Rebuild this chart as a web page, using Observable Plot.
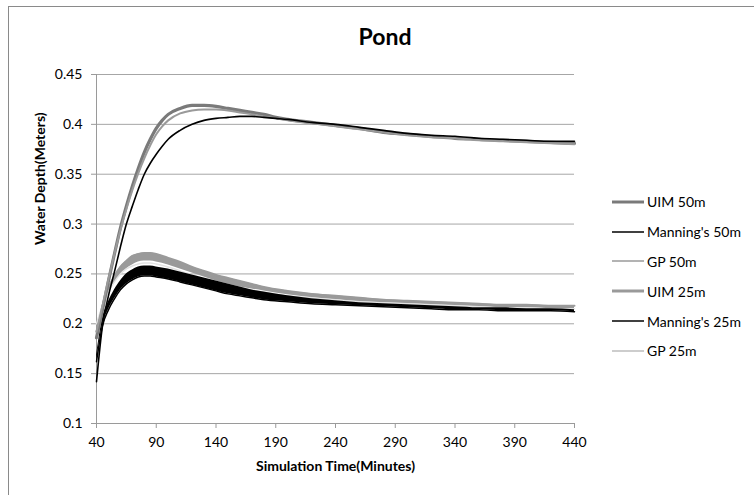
<!DOCTYPE html>
<html>
<head>
<meta charset="utf-8">
<script src="https://cdn.jsdelivr.net/npm/d3@7"></script>
<script src="https://cdn.jsdelivr.net/npm/@observablehq/plot@0.6"></script>
<style>
  html, body { margin: 0; padding: 0; background: #fff; overflow: hidden; }
  #wrap { position: relative; width: 754px; height: 495px; font-family: Lato, "Open Sans", sans-serif; }
  #frame { position: absolute; left: 8px; top: 6px; width: 780px; height: 520px; border: 1.5px solid #8a8a8a; box-sizing: border-box; pointer-events: none; }
  #title { position: absolute; left: 0; width: 770px; top: 22px; text-align: center; font-size: 23px; font-weight: bold; color: #000; }
  #legend { position: absolute; left: 612px; top: 187px; font-size: 14px; color: #000; }
  .row { height: 29.8px; display: flex; align-items: center; }
  .sw { width: 32px; margin-right: 3px; }
  svg { position: absolute; left: 0; top: 0; }
</style>
</head>
<body>
<div id="wrap">
  <div id="frame"></div>
  <div id="title">Pond</div>
  <div id="legend"></div>
</div>
<script>
const xTicks = [40, 90, 140, 190, 240, 290, 340, 390, 440];
const yTicks = [0.1, 0.15, 0.2, 0.25, 0.3, 0.35, 0.4, 0.45];

const t50 = [40,45,50,55,60,65,70,75,80,85,90,95,100,110,120,130,140,150,160,170,180,190,200,220,240,260,280,300,320,340,360,380,400,420,440];
const uim50 = [0.186,0.214,0.243,0.27,0.296,0.318,0.338,0.356,0.372,0.385,0.396,0.404,0.41,0.416,0.419,0.419,0.418,0.416,0.414,0.412,0.41,0.407,0.405,0.402,0.399,0.396,0.392,0.390,0.388,0.386,0.385,0.384,0.383,0.382,0.381];
const gp50 = [0.192,0.218,0.245,0.27,0.294,0.315,0.334,0.351,0.366,0.379,0.39,0.398,0.404,0.411,0.414,0.415,0.415,0.414,0.412,0.41,0.408,0.406,0.404,0.401,0.398,0.395,0.392,0.389,0.387,0.386,0.384,0.383,0.382,0.381,0.380];
const manning50 = [0.142,0.198,0.228,0.252,0.277,0.30,0.318,0.335,0.35,0.361,0.37,0.378,0.385,0.394,0.400,0.404,0.406,0.407,0.408,0.408,0.407,0.406,0.405,0.402,0.400,0.397,0.394,0.391,0.389,0.388,0.386,0.385,0.384,0.383,0.383];

const t25 = [40,45,50,55,60,65,70,75,80,85,90,100,110,120,130,140,150,160,170,180,200,220,240,260,280,300,320,340,360,380,400,420,440];
const uim25Hi = [0.192,0.218,0.236,0.248,0.257,0.263,0.268,0.270,0.271,0.271,0.270,0.266,0.262,0.257,0.253,0.249,0.246,0.243,0.240,0.237,0.233,0.230,0.228,0.226,0.224,0.223,0.222,0.221,0.220,0.219,0.219,0.218,0.218];
const uim25Lo = [0.186,0.212,0.230,0.241,0.249,0.255,0.259,0.262,0.263,0.263,0.262,0.259,0.255,0.251,0.247,0.243,0.240,0.237,0.235,0.233,0.229,0.226,0.224,0.222,0.221,0.220,0.219,0.218,0.217,0.216,0.216,0.215,0.215];
const gp25 = [0.20,0.218,0.232,0.242,0.25,0.255,0.258,0.26,0.261,0.261,0.26,0.257,0.253,0.249,0.245,0.242,0.239,0.236,0.234,0.232,0.228,0.226,0.224,0.222,0.221,0.22,0.219,0.218,0.217,0.216,0.216,0.215,0.215];
const manning25Hi = [0.168,0.205,0.222,0.234,0.243,0.25,0.254,0.257,0.258,0.258,0.257,0.255,0.252,0.249,0.246,0.243,0.240,0.237,0.234,0.232,0.228,0.225,0.223,0.221,0.220,0.219,0.218,0.217,0.216,0.216,0.215,0.215,0.214];
const manning25Lo = [0.162,0.198,0.214,0.225,0.234,0.24,0.244,0.247,0.248,0.248,0.247,0.245,0.242,0.239,0.236,0.233,0.230,0.228,0.226,0.224,0.222,0.220,0.219,0.218,0.217,0.216,0.215,0.214,0.214,0.213,0.213,0.213,0.212];

const legendNames = ["UIM 50m", "Manning's 50m", "GP 50m", "UIM 25m", "Manning's 25m", "GP 25m"];
const legendColors = ["#7a7a7a", "#000000", "#9a9a9a", "#9a9a9a", "#000000", "#bdbdbd"];
const legendWidths = [3, 1.5, 1.5, 3, 1.5, 1.5];

const line50 = t50.map((t, i) => ({t, uim: uim50[i], gp: gp50[i], man: manning50[i]}));
const band25 = t25.map((t, i) => ({t, uHi: uim25Hi[i], uLo: uim25Lo[i], gp: gp25[i], mHi: manning25Hi[i], mLo: manning25Lo[i]}));

const chart = Plot.plot({
  width: 754,
  height: 495,
  marginLeft: 96,
  marginRight: 180,
  marginTop: 74,
  marginBottom: 72,
  style: {fontFamily: "Lato, 'Open Sans', sans-serif", fontSize: "14px", color: "#000", background: "transparent"},
  x: {domain: [40, 440]},
  y: {domain: [0.1, 0.45]},
  marks: [
    Plot.gridY(yTicks.filter(d => d > 0.1), {stroke: "#a6a6a6", strokeOpacity: 1, strokeWidth: 1}),
    Plot.ruleX([40], {stroke: "#9a9a9a", strokeWidth: 1}),
    Plot.ruleY([0.1], {stroke: "#9a9a9a", strokeWidth: 1}),
    Plot.axisY({ticks: yTicks, tickFormat: d => String(d), tickSize: 5, tickPadding: 9, stroke: "#9a9a9a", fontSize: 14, label: null}),
    Plot.axisX({ticks: xTicks, tickFormat: d => String(d), tickSize: 5, tickPadding: 9, stroke: "#9a9a9a", fontSize: 14, label: null}),
    Plot.text(["Water Depth(Meters)"], {frameAnchor: "left", dx: -56, dy: -4, rotate: -90, fontWeight: "bold", fontSize: 14}),
    Plot.text(["Simulation Time(Minutes)"], {frameAnchor: "bottom", dy: 47, fontWeight: "bold", fontSize: 14}),
    // 25m group
    Plot.areaY(band25, {x: "t", y1: "uLo", y2: "uHi", fill: "#9a9a9a", curve: "monotone-x"}),
    Plot.line(band25, {x: "t", y: "uHi", stroke: "#9a9a9a", strokeWidth: 2, curve: "monotone-x"}),
    Plot.line(band25, {x: "t", y: "gp", stroke: "#e2e2e2", strokeWidth: 1.5, curve: "monotone-x"}),
    Plot.areaY(band25, {x: "t", y1: "mLo", y2: "mHi", fill: "#000", curve: "monotone-x"}),
    Plot.line(band25, {x: "t", y: "mLo", stroke: "#000", strokeWidth: 1.5, curve: "monotone-x"}),
    // 50m group
    Plot.line(line50, {x: "t", y: "uim", stroke: "#7a7a7a", strokeWidth: 3.2, curve: "monotone-x"}),
    Plot.line(line50, {x: "t", y: "gp", stroke: "#9a9a9a", strokeWidth: 2, curve: "monotone-x"}),
    Plot.line(line50, {x: "t", y: "man", stroke: "#000", strokeWidth: 1.6, curve: "monotone-x"})
  ]
});
document.getElementById("wrap").prepend(chart);

const legend = d3.select("#legend");
legendNames.forEach((name, i) => {
  const row = legend.append("div").attr("class", "row");
  const sw = row.append("svg").attr("class", "sw").attr("width", 32).attr("height", 8).style("position", "static");
  sw.append("line").attr("x1", 0).attr("x2", 32).attr("y1", 4).attr("y2", 4)
    .attr("stroke", legendColors[i]).attr("stroke-width", legendWidths[i]);
  row.append("span").text(name);
});
</script>
</body>
</html>
